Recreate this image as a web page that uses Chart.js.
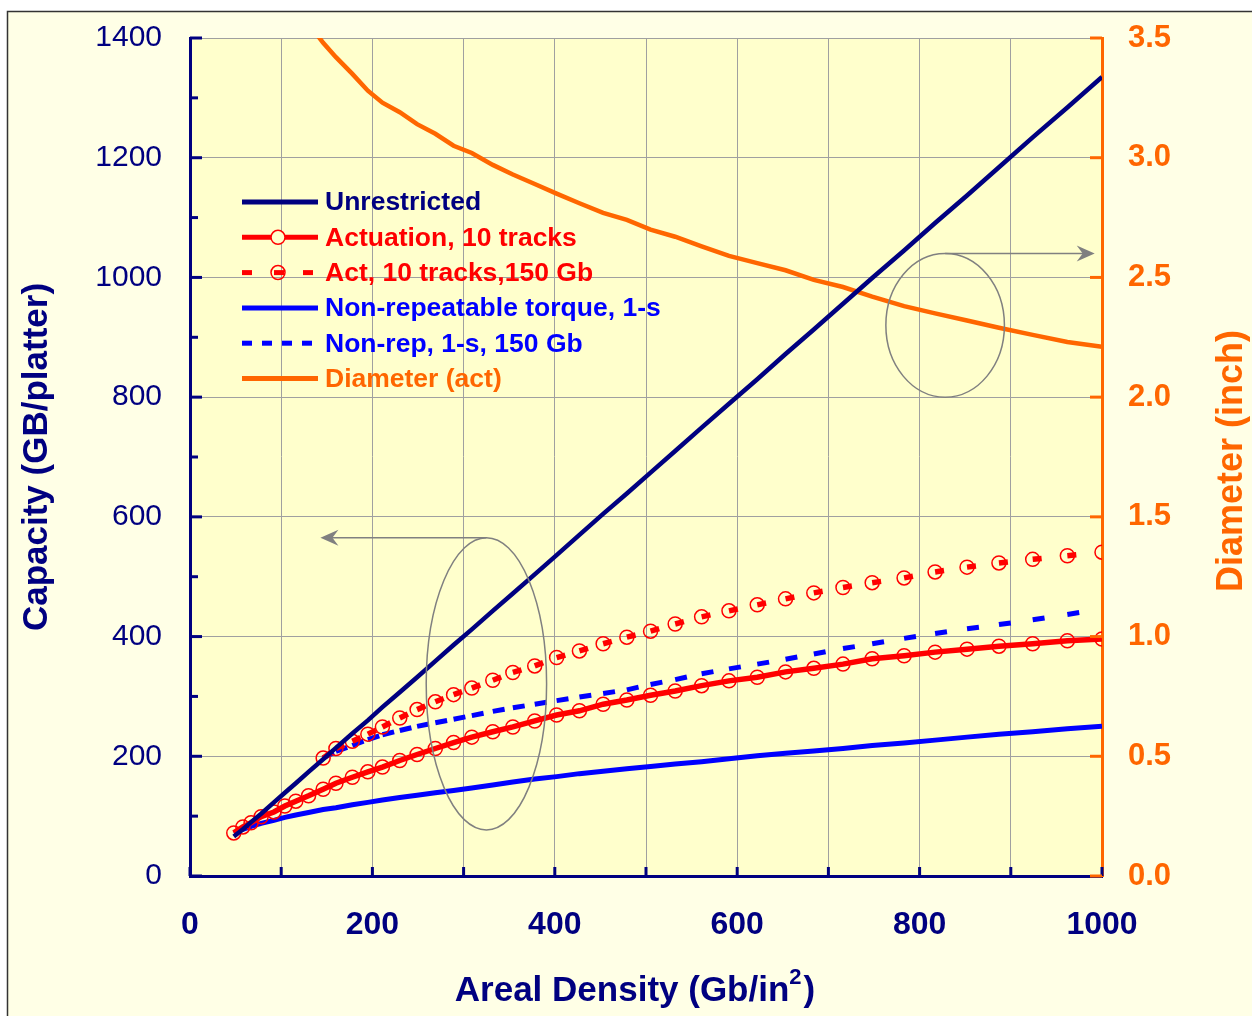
<!DOCTYPE html>
<html>
<head>
<meta charset="utf-8">
<title>Capacity vs Areal Density</title>
<script src="https://cdn.jsdelivr.net/npm/chart.js@4.4.1/dist/chart.umd.min.js"></script>
<style>
    html, body { margin: 0; padding: 0; background: #ffffff; }
    canvas { display: block; }
</style>
</head>
<body>
<canvas id="capacityChart" width="1252" height="1016"></canvas>
<script>
// Areal density points (Gb/in^2) shared by every series
const density = [48, 58, 67, 78, 92, 104, 116, 130, 146, 160, 178, 195, 211, 230, 249, 269, 289, 309, 332, 354,
    378, 402, 427, 453, 479, 505, 532, 561, 591, 622, 653, 684, 716, 748, 783, 817, 852, 887, 924, 962, 1000];

// Capacity (GB/platter), left axis
const unrestricted = [66, 78, 90, 104, 123, 139, 155, 174, 195, 214, 238, 260, 282, 307, 332, 359, 386, 412, 443, 472,
    504, 536, 570, 605, 639, 674, 710, 749, 789, 830, 872, 913, 956, 999, 1045, 1091, 1137, 1184, 1234, 1284, 1335];
const actuation = [72, 82, 89, 99, 107, 117, 125, 134, 145, 155, 165, 174, 182, 193, 203, 213, 223, 232, 241, 249,
    259, 269, 276, 287, 294, 302, 309, 318, 326, 332, 341, 347, 354, 363, 368, 374, 379, 384, 388, 393, 396];
const act150 = [null, null, null, null, null, null, null, null, 197, 213, 225, 237, 249, 264, 278, 291, 303, 314, 327, 340,
    351, 365, 376, 388, 399, 409, 421, 433, 443, 453, 463, 473, 482, 490, 498, 508, 516, 523, 529, 535, 541];
const nonRep = [72, 78, 83, 88, 93, 98, 102, 106, 111, 114, 119, 123, 127, 131, 135, 139, 143, 147, 152, 157,
    162, 166, 171, 175, 179, 183, 187, 191, 196, 201, 205, 209, 213, 218, 222, 227, 232, 237, 241, 246, 250];
const nonRep150 = [null, null, null, null, null, null, null, null, 197, 208, 218, 228, 236, 243, 250, 256, 262, 268, 275, 281,
    287, 293, 299, 305, 311, 320, 328, 338, 346, 354, 362, 371, 380, 388, 397, 405, 413, 420, 428, 437, 446];

// Diameter (inch), right axis
const diameter = [4.30, 4.18, 4.05, 3.96, 3.79, 3.72, 3.65, 3.56, 3.48, 3.42, 3.35, 3.28, 3.23, 3.19, 3.14, 3.10, 3.05, 3.02, 2.97, 2.93,
    2.89, 2.85, 2.81, 2.77, 2.74, 2.70, 2.67, 2.63, 2.59, 2.56, 2.53, 2.49, 2.46, 2.42, 2.38, 2.35, 2.32, 2.29, 2.26, 2.23, 2.21];

// Axis ticks and labels
const densityTicks = [0, 100, 200, 300, 400, 500, 600, 700, 800, 900, 1000];
const densityLabels = ['0', '', '200', '', '400', '', '600', '', '800', '', '1000'];
const capacityTicks = [0, 200, 400, 600, 800, 1000, 1200, 1400];
const capacityLabels = ['0', '200', '400', '600', '800', '1000', '1200', '1400'];
const diameterTicks = [0, 0.5, 1, 1.5, 2, 2.5, 3, 3.5];
const diameterLabels = ['0.0', '0.5', '1.0', '1.5', '2.0', '2.5', '3.0', '3.5'];

const FONT = '"Liberation Sans", Arial, sans-serif';
const NAVY = '#000080';
const RED = '#FF0000';
const BLUE = '#0000FF';
const ORANGE = '#FF6600';
const GRID = '#A0A0A0';
const PLOT_BG = '#FFFFCC';

// Grey callout ellipses (data units on the capacity axis) with arrows
const callouts = [
    { cx: 325, cy: 321, rx: 66, ry: 244, arrowTo: 143 },
    { cx: 828, cy: 920, rx: 65, ry: 120, arrowTo: 992 }
];

function toPoints(values) {
    return density.map((x, i) => ({ x: x, y: values[i] }));
}

// Excel restarts the dash pattern on each segment, so split the path per segment
const restartDash = {
    borderDashOffset: ctx => (ctx.p0DataIndex % 2 ? 0.01 : 0)
};

// keep tick-label padding from pushing the plot area down
function fixVerticalAxis(width) {
    return axis => {
        axis.width = width;
        axis.paddingTop = 0;
        axis.paddingBottom = 0;
    };
}

const backgroundPlugin = {
    id: 'pageBackground',
    beforeDraw(chart) {
        const { ctx, chartArea: a, width, height } = chart;
        ctx.save();
        ctx.fillStyle = '#ffffff';
        ctx.fillRect(0, 0, width, height);
        ctx.fillStyle = '#FFFFE6';
        ctx.fillRect(8, 12, width - 8, height - 12);
        ctx.strokeStyle = '#333333';
        ctx.lineWidth = 1.5;
        ctx.beginPath();
        ctx.moveTo(7.5, height);
        ctx.lineTo(7.5, 11.5);
        ctx.lineTo(width, 11.5);
        ctx.stroke();
        ctx.fillStyle = PLOT_BG;
        ctx.fillRect(a.left, a.top, a.right - a.left, a.bottom - a.top);
        ctx.restore();
    }
};

function drawArrow(ctx, x0, y, x1) {
    const dir = Math.sign(x1 - x0);
    ctx.beginPath();
    ctx.moveTo(x0, y);
    ctx.lineTo(x1 - dir * 10, y);
    ctx.stroke();
    ctx.beginPath();
    ctx.moveTo(x1, y);
    ctx.lineTo(x1 - dir * 18, y - 8);
    ctx.lineTo(x1 - dir * 12, y);
    ctx.lineTo(x1 - dir * 18, y + 8);
    ctx.closePath();
    ctx.fill();
}

const calloutPlugin = {
    id: 'callouts',
    afterDatasetsDraw(chart) {
        const { ctx } = chart;
        const xS = chart.scales.x;
        const yS = chart.scales.y;
        ctx.save();
        ctx.strokeStyle = '#808080';
        ctx.fillStyle = '#808080';
        ctx.lineWidth = 1.5;
        callouts.forEach(c => {
            const cx = xS.getPixelForValue(c.cx);
            const cy = yS.getPixelForValue(c.cy);
            const rx = Math.abs(xS.getPixelForValue(c.cx + c.rx) - cx);
            const ry = Math.abs(yS.getPixelForValue(c.cy + c.ry) - cy);
            ctx.beginPath();
            ctx.ellipse(cx, cy, rx, ry, 0, 0, Math.PI * 2);
            ctx.stroke();
            drawArrow(ctx, cx, cy - ry, xS.getPixelForValue(c.arrowTo));
        });
        ctx.restore();
    }
};

const axisDecorPlugin = {
    id: 'axisDecor',
    afterDraw(chart) {
        const { ctx, chartArea: a } = chart;
        const xS = chart.scales.x;
        const yS = chart.scales.y;
        const y2S = chart.scales.y2;
        ctx.save();
        ctx.lineWidth = 3;

        // inward tick marks on the left axis (major + minor)
        ctx.strokeStyle = NAVY;
        capacityTicks.forEach((v, i) => {
            const py = yS.getPixelForValue(v);
            ctx.beginPath();
            ctx.moveTo(a.left, py);
            ctx.lineTo(a.left + 12, py);
            ctx.stroke();
            if (i < capacityTicks.length - 1) {
                const pm = yS.getPixelForValue((v + capacityTicks[i + 1]) / 2);
                ctx.beginPath();
                ctx.moveTo(a.left, pm);
                ctx.lineTo(a.left + 8, pm);
                ctx.stroke();
            }
        });

        // inward tick marks on the x axis
        densityTicks.forEach(v => {
            const px = xS.getPixelForValue(v);
            ctx.beginPath();
            ctx.moveTo(px, a.bottom);
            ctx.lineTo(px, a.bottom - 9);
            ctx.stroke();
        });

        // inward tick marks on the right axis
        ctx.strokeStyle = ORANGE;
        diameterTicks.forEach(v => {
            const py = y2S.getPixelForValue(v);
            ctx.beginPath();
            ctx.moveTo(a.right, py);
            ctx.lineTo(a.right - 12, py);
            ctx.stroke();
        });

        // x axis title with a real superscript
        const mainFont = 'bold 35px ' + FONT;
        const supFont = 'bold 22px ' + FONT;
        const partA = 'Areal Density (Gb/in';
        const partB = '2';
        const partC = ')';
        ctx.font = mainFont;
        const wA = ctx.measureText(partA).width;
        const wC = ctx.measureText(partC).width;
        ctx.font = supFont;
        const wB = ctx.measureText(partB).width;
        let tx = a.left + 445 - (wA + wB + 2 + wC) / 2;
        const base = a.bottom + 125;
        ctx.fillStyle = NAVY;
        ctx.textBaseline = 'alphabetic';
        ctx.textAlign = 'left';
        ctx.font = mainFont;
        ctx.fillText(partA, tx, base);
        tx += wA;
        ctx.font = supFont;
        ctx.fillText(partB, tx, base - 17);
        tx += wB + 2;
        ctx.font = mainFont;
        ctx.fillText(partC, tx, base);

        // right axis title reads bottom-to-top like the left one
        ctx.translate(a.right + 130, (a.top + a.bottom) / 2 + 4);
        ctx.rotate(-Math.PI / 2);
        ctx.font = 'bold 36px ' + FONT;
        ctx.fillStyle = ORANGE;
        ctx.textAlign = 'center';
        ctx.textBaseline = 'middle';
        ctx.fillText('Diameter (inch)', 0, 0);
        ctx.restore();
    }
};

const insideLegendPlugin = {
    id: 'insideLegend',
    afterDraw(chart) {
        const { ctx, chartArea: a } = chart;
        const x0 = a.left + 52;
        const tx = a.left + 135;
        ctx.save();
        ctx.font = 'bold 26.5px ' + FONT;
        ctx.textBaseline = 'middle';
        chart.data.datasets.forEach((ds, i) => {
            const y = a.top + 164 + i * 35.3;
            const dashed = ds.borderDash && ds.borderDash.length;
            ctx.strokeStyle = ds.borderColor;
            ctx.lineWidth = 5;
            if (dashed && ds.pointRadius) {
                [[0, 10], [32, 42], [61, 71]].forEach(s => {
                    ctx.beginPath();
                    ctx.moveTo(x0 + s[0], y);
                    ctx.lineTo(x0 + s[1], y);
                    ctx.stroke();
                });
            } else {
                ctx.setLineDash(dashed ? [10, 10] : []);
                ctx.beginPath();
                ctx.moveTo(x0, y);
                ctx.lineTo(x0 + (dashed ? 71 : 76), y);
                ctx.stroke();
                ctx.setLineDash([]);
            }
            if (ds.pointRadius) {
                ctx.lineWidth = 1.5;
                ctx.beginPath();
                ctx.arc(x0 + 36, y, 7, 0, Math.PI * 2);
                if (!dashed) {
                    ctx.fillStyle = PLOT_BG;
                    ctx.fill();
                }
                ctx.stroke();
            }
            ctx.fillStyle = ds.borderColor;
            ctx.fillText(ds.label, tx, y + 1);
        });
        ctx.restore();
    }
};

function initializeCapacityChart() {
    const canvas = document.getElementById('capacityChart');
    if (!canvas) return;

    new Chart(canvas, {
        type: 'line',
        data: {
            datasets: [
                {
                    label: 'Unrestricted',
                    data: toPoints(unrestricted),
                    borderColor: NAVY,
                    borderWidth: 4.5,
                    pointRadius: 0,
                    yAxisID: 'y'
                },
                {
                    label: 'Actuation, 10 tracks',
                    data: toPoints(actuation),
                    borderColor: RED,
                    borderWidth: 5.5,
                    pointRadius: 7,
                    pointBorderWidth: 1.5,
                    pointBorderColor: RED,
                    pointBackgroundColor: 'rgba(0,0,0,0)',
                    yAxisID: 'y'
                },
                {
                    label: 'Act, 10 tracks,150 Gb',
                    data: toPoints(act150),
                    borderColor: RED,
                    borderWidth: 5.5,
                    borderDash: [9, 1000],
                    segment: restartDash,
                    pointRadius: 7,
                    pointBorderWidth: 1.5,
                    pointBorderColor: RED,
                    pointBackgroundColor: 'rgba(0,0,0,0)',
                    yAxisID: 'y'
                },
                {
                    label: 'Non-repeatable torque, 1-s',
                    data: toPoints(nonRep),
                    borderColor: BLUE,
                    borderWidth: 5,
                    pointRadius: 0,
                    yAxisID: 'y'
                },
                {
                    label: 'Non-rep, 1-s, 150 Gb',
                    data: toPoints(nonRep150),
                    borderColor: BLUE,
                    borderWidth: 5,
                    borderDash: [12, 1000],
                    segment: restartDash,
                    pointRadius: 0,
                    yAxisID: 'y'
                },
                {
                    label: 'Diameter (act)',
                    data: toPoints(diameter),
                    borderColor: ORANGE,
                    borderWidth: 4.5,
                    pointRadius: 0,
                    yAxisID: 'y2'
                }
            ]
        },
        options: {
            responsive: false,
            animation: false,
            devicePixelRatio: 1,
            events: [],
            layout: {
                padding: { top: 38, left: 0, right: 0, bottom: 0 }
            },
            elements: {
                line: { tension: 0 }
            },
            plugins: {
                legend: { display: false },
                tooltip: { enabled: false }
            },
            scales: {
                x: {
                    type: 'linear',
                    min: 0,
                    max: 1000,
                    afterBuildTicks: axis => { axis.ticks = densityTicks.map(v => ({ value: v })); },
                    afterFit: axis => { axis.height = 140; },
                    grid: { color: GRID, lineWidth: 1, drawTicks: false },
                    border: { display: true, color: NAVY, width: 3 },
                    ticks: {
                        autoSkip: false,
                        maxRotation: 0,
                        padding: 30,
                        color: NAVY,
                        font: { family: FONT, size: 32, weight: 'bold' },
                        callback: (v, i) => densityLabels[i]
                    },
                    title: { display: false }
                },
                y: {
                    position: 'left',
                    min: 0,
                    max: 1400,
                    afterBuildTicks: axis => { axis.ticks = capacityTicks.map(v => ({ value: v })); },
                    afterFit: fixVerticalAxis(190),
                    grid: { color: GRID, lineWidth: 1, drawTicks: false },
                    border: { display: true, color: NAVY, width: 3 },
                    ticks: {
                        padding: 28,
                        color: NAVY,
                        font: { family: FONT, size: 30 },
                        callback: (v, i) => capacityLabels[i]
                    },
                    title: {
                        display: true,
                        text: 'Capacity (GB/platter)',
                        color: NAVY,
                        font: { family: FONT, size: 35, weight: 'bold' },
                        padding: { top: 16, bottom: 0 }
                    }
                },
                y2: {
                    position: 'right',
                    min: 0,
                    max: 3.5,
                    afterBuildTicks: axis => { axis.ticks = diameterTicks.map(v => ({ value: v })); },
                    afterFit: fixVerticalAxis(150),
                    grid: { display: false, drawTicks: false },
                    border: { display: true, color: ORANGE, width: 3 },
                    ticks: {
                        padding: 26,
                        color: ORANGE,
                        font: { family: FONT, size: 31, weight: 'bold' },
                        callback: (v, i) => diameterLabels[i]
                    }
                }
            }
        },
        plugins: [backgroundPlugin, calloutPlugin, axisDecorPlugin, insideLegendPlugin]
    });
}

document.addEventListener('DOMContentLoaded', initializeCapacityChart);
</script>
</body>
</html>
